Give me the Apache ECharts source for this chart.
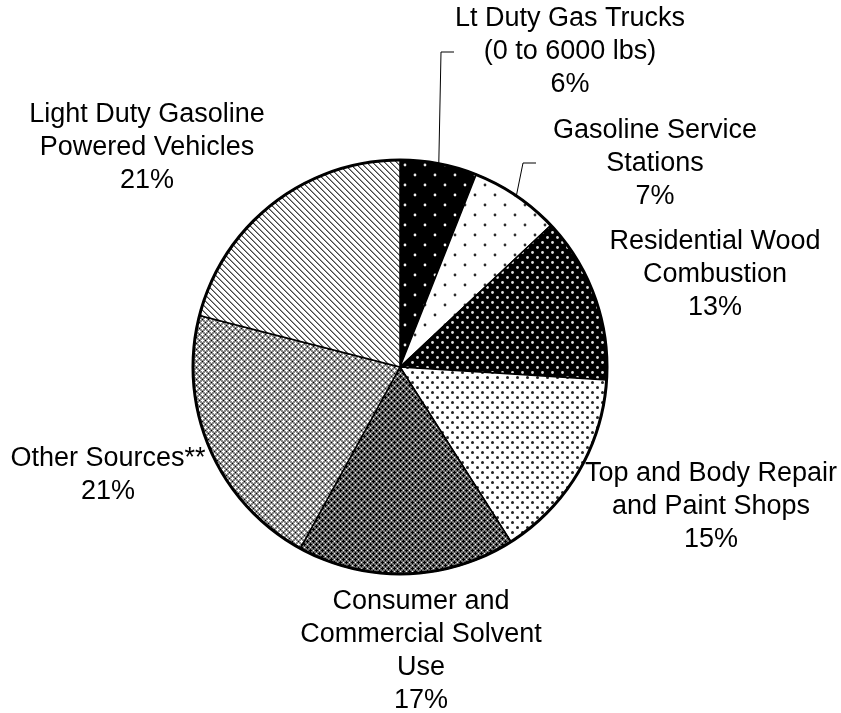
<!DOCTYPE html>
<html>
<head>
<meta charset="utf-8">
<script src="https://cdn.jsdelivr.net/npm/echarts@6/dist/echarts.min.js"></script>
<style>
html,body{margin:0;padding:0;background:#fff;}
#chart{width:841px;height:713px;}
</style>
</head>
<body>
<div id="chart"></div>
<script>
// ---- data ----
const categories = [
  'Lt Duty Gas Trucks\n(0 to 6000 lbs)',
  'Gasoline Service\nStations',
  'Residential Wood\nCombustion',
  'Top and Body Repair\nand Paint Shops',
  'Consumer and\nCommercial Solvent\nUse',
  'Other Sources**',
  'Light Duty Gasoline\nPowered Vehicles'
];
const shares = [6, 7, 13, 15, 17, 21, 21];

// ---- patterns ----
function pat(size, bg, draw) {
  const c = document.createElement('canvas');
  c.width = size; c.height = size;
  const g = c.getContext('2d');
  g.fillStyle = bg; g.fillRect(0, 0, size, size);
  draw(g);
  return { image: c, repeat: 'repeat' };
}
function dots(g, pts, col, r) {
  g.fillStyle = col;
  pts.forEach(p => { g.beginPath(); g.arc(p[0], p[1], r, 0, Math.PI * 2); g.fill(); });
}
function cross(g, x, y, col) {
  g.fillStyle = col;
  g.fillRect(x - 1, y, 3, 1);
  g.fillRect(x, y - 1, 1, 3);
}
const patterns = [
  pat(20, '#000', g => dots(g, [[5, 5], [15, 15]], '#e6e6e6', 1.4)),
  pat(20, '#fff', g => dots(g, [[5, 5], [15, 15]], '#333', 1.4)),
  pat(10, '#000', g => dots(g, [[2.5, 2.5], [7.5, 7.5]], '#e0e0e0', 1.4)),
  pat(10, '#fff', g => dots(g, [[2.5, 2.5], [7.5, 7.5]], '#222', 1.5)),
  pat(6, '#707070', g => { cross(g, 1, 1, '#000'); cross(g, 4, 4, '#000'); g.fillStyle = '#fff'; g.fillRect(4, 1, 1, 1); g.fillRect(1, 4, 1, 1); }),
  pat(6, '#888', g => { cross(g, 1, 1, '#fff'); cross(g, 4, 4, '#fff'); g.fillStyle = '#000'; g.fillRect(4, 1, 1, 1); g.fillRect(1, 4, 1, 1); }),
  pat(6, '#fff', g => { for (let i = 0; i < 6; i++) { g.fillStyle = '#444'; g.fillRect(i, i, 1, 1); g.fillStyle = '#999'; g.fillRect((i + 1) % 6, i, 1, 1); } })
];

// label block centres (layout only)
const labelPos = [[570, 52], [655, 164], [715, 275], [711, 507], [421, 651], [108, 475], [147, 148]];
const leaderTurn = [[[441, 52], [454, 52]], [[523, 163], [536, 163]]];

const chart = echarts.init(document.getElementById('chart'), null, { renderer: 'canvas' });
chart.setOption({
  backgroundColor: '#fff',
  animation: false,
  series: [
    {
      type: 'pie',
      center: [400, 367],
      radius: 207,
      startAngle: 90,
      clockwise: true,
      avoidLabelOverlap: false,
      data: categories.map((c, i) => ({
        name: c,
        value: shares[i],
        itemStyle: { color: patterns[i] },
        labelLine: { show: i < 2 }
      })),
      itemStyle: { borderColor: '#000', borderWidth: 1.5 },
      label: {
        show: true,
        position: 'outside',
        formatter: p => p.name + '\n' + p.value + '%',
        fontFamily: 'Liberation Sans, Arial, sans-serif',
        fontSize: 27,
        lineHeight: 33,
        color: '#000',
        align: 'center'
      },
      labelLine: { show: false, lineStyle: { color: '#000', width: 1 } },
      labelLayout: function (params) {
        const i = params.dataIndex;
        const res = { x: labelPos[i][0], y: labelPos[i][1], align: 'center', verticalAlign: 'middle' };
        if (i < 2 && params.labelLinePoints) {
          res.labelLinePoints = [params.labelLinePoints[0], leaderTurn[i][0], leaderTurn[i][1]];
        }
        return res;
      },
      emphasis: { disabled: true }
    },
    {
      type: 'pie',
      silent: true,
      center: [400, 367],
      radius: 207,
      startAngle: 90,
      data: [{ value: 1, name: 'outline' }],
      itemStyle: { color: 'rgba(0,0,0,0)', borderColor: '#000', borderWidth: 3 },
      label: { show: false },
      labelLine: { show: false },
      emphasis: { disabled: true }
    }
  ]
});
</script>
</body>
</html>
